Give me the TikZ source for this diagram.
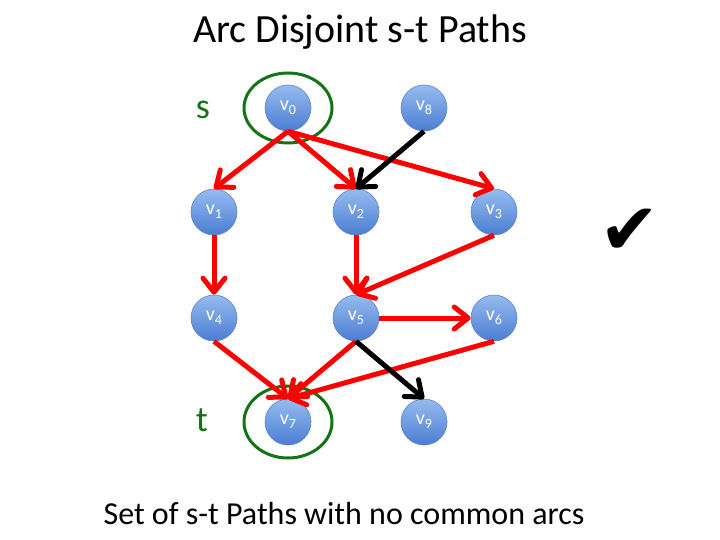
\documentclass[tikz,border=0pt]{standalone}
\usepackage{fontspec}
\setmainfont{Carlito}
\newfontfamily\symfont{DejaVu Sans}
\usepackage{tikz}
\usetikzlibrary{arrows.meta, positioning, shapes, calc}

\definecolor{vtop}{RGB}{150,188,240}
\definecolor{vbot}{RGB}{75,125,210}
\definecolor{vrim}{RGB}{90,130,200}
\definecolor{stgreen}{RGB}{20,115,20}

\newcommand{\vlab}[1]{v\raisebox{-4pt}{\fontsize{14}{14}\selectfont #1}}

\begin{document}
\begin{tikzpicture}[x=1pt, y=-1pt,
    vert/.style={circle, minimum size=46pt, inner sep=0pt, top color=vtop, bottom color=vbot, draw=vrim, line width=0.6pt, text=white, font=\fontsize{20}{22}\selectfont},
    arc/.style={-{Straight Barb[length=14pt, width=22pt, line width=5pt, round]}, line width=5pt, red},
    blackarc/.style={arc, black},
    ring/.style={draw=stgreen, line width=3pt},
    lab/.style={text=stgreen, font=\fontsize{36}{40}\selectfont}
  ]
    \useasboundingbox (0,0) rectangle (720,540);

    % Title
    \node[font=\fontsize{40}{44}\selectfont] (title) at (360,32) {Arc Disjoint s-t Paths};

    % Vertices
    \node[vert] (v0) at (288,108) {\vlab{0}};
    \node[vert] (v8) at (424,108) {\vlab{8}};
    \node[vert] (v1) at (214,212) {\vlab{1}};
    \node[vert] (v2) at (356,212) {\vlab{2}};
    \node[vert] (v3) at (494,212) {\vlab{3}};
    \node[vert] (v4) at (214,318) {\vlab{4}};
    \node[vert] (v5) at (356,318) {\vlab{5}};
    \node[vert] (v6) at (494,318) {\vlab{6}};
    \node[vert] (v7) at (288,422) {\vlab{7}};
    \node[vert] (v9) at (424,422) {\vlab{9}};

    % Source and sink
    \node[lab] (s) at (203,110) {s};
    \node[lab] (t) at (202,420) {t};
    \draw[ring] (v0) ellipse (44 and 35);
    \draw[ring] (v7) ellipse (44 and 36);

    % Red arcs (the disjoint paths)
    \draw[arc] (v0.south) -- (v1.north);
    \draw[arc] (v0.south) -- (v2.north);
    \draw[arc] (v0.south) -- (v3.north);
    \draw[arc] (v1.south) -- (v4.north);
    \draw[arc] (v2.south) -- (v5.north);
    \draw[arc] (v3.south) -- (v5.north);
    \draw[arc] (v5.east) -- (v6.west);
    \draw[arc] (v4.south) -- (v7.north);
    \draw[arc] (v5.south) -- (v7.north);
    \draw[arc] (v6.south) -- (v7.north);

    % Other arcs
    \draw[blackarc] (v8.south) -- (v2.north);
    \draw[blackarc] (v5.south) -- (v9.north);

    % Check mark
    \node[font=\symfont\fontsize{72}{76}\selectfont] (check) at (630,232) {✔};

    % Caption
    \node[font=\fontsize{32}{36}\selectfont] (caption) at (344,514) {Set of s-t Paths with no common arcs};

  \end{tikzpicture}
\end{document}
